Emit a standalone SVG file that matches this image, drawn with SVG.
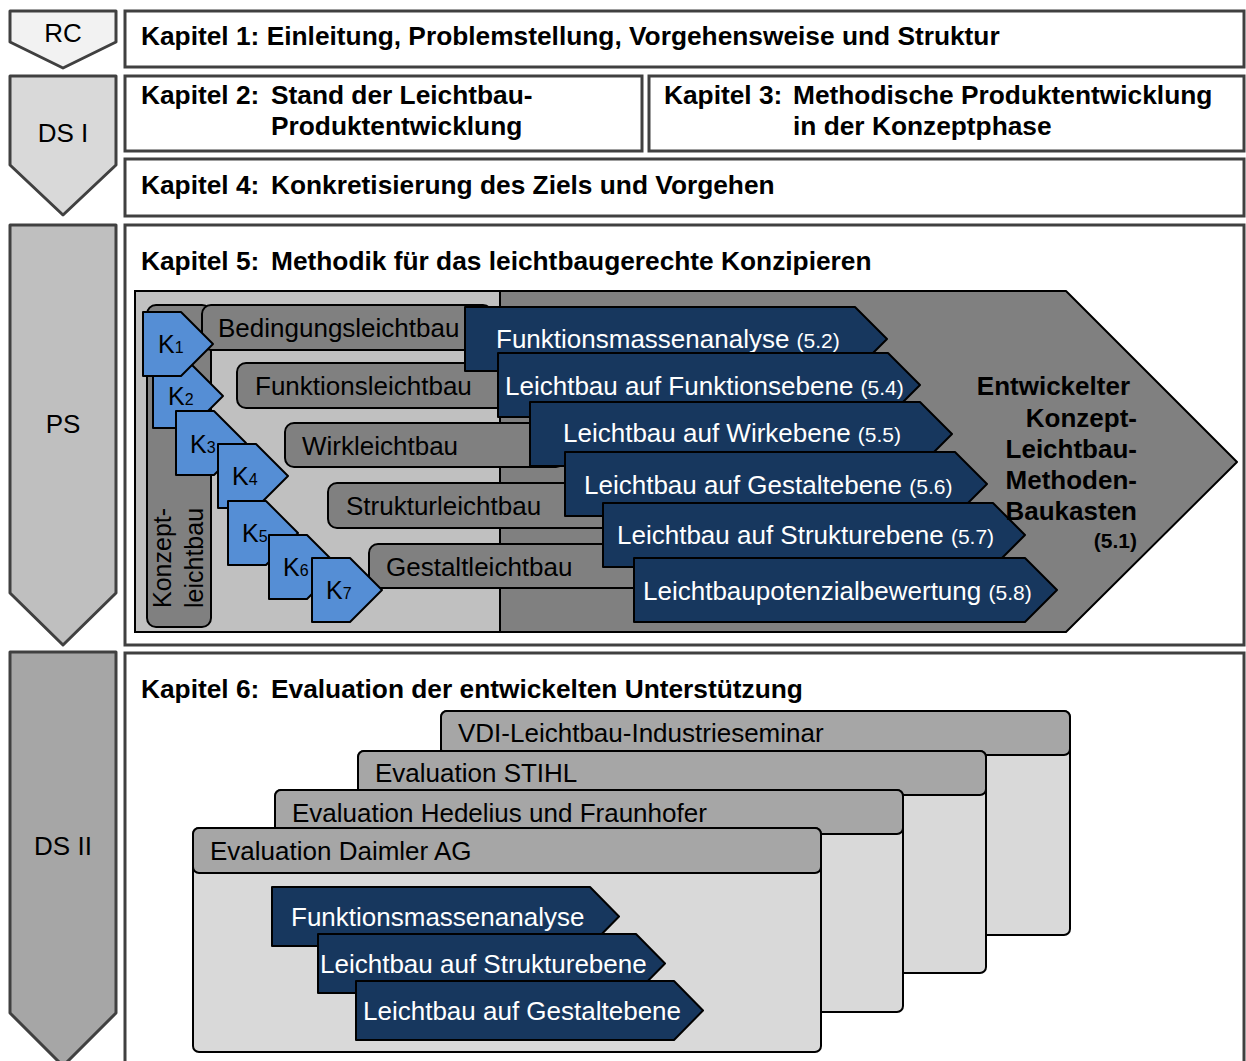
<svg xmlns="http://www.w3.org/2000/svg" width="1246" height="1061" viewBox="0 0 1246 1061">
<style>
text{font-family:"Liberation Sans",Arial,sans-serif;}
.phase{stroke:#404040;stroke-width:3;stroke-linejoin:round;}
.ptxt{font-size:26px;fill:#000;text-anchor:middle;}
.chap{fill:#fff;stroke:#404040;stroke-width:3;}
.ct{font-size:26.3px;font-weight:bold;fill:#000;}
.bar{fill:#808080;stroke:#000;stroke-width:2;}
.bt{font-size:26px;fill:#000;}
.blue{fill:#17375e;stroke:#000;stroke-width:2;stroke-linejoin:round;}
.wt{font-size:26px;fill:#fff;}
.sm{font-size:21px;}
.k{fill:#558ed5;stroke:#000;stroke-width:2;stroke-linejoin:round;}
.kt{font-size:25px;fill:#000;}
.ks{font-size:16px;}
.body{fill:#d9d9d9;stroke:#000;stroke-width:2;}
.head{fill:#a6a6a6;stroke:#000;stroke-width:2;}
.big{font-size:26px;font-weight:bold;fill:#000;text-anchor:end;}
</style>
<g id="phases">
<g id="rc"><polygon class="phase" fill="#f2f2f2" points="10,11 116,11 116,42 63,68 10,42"/><text class="ptxt" x="63" y="42">RC</text></g>
<g id="ds1"><polygon class="phase" fill="#d9d9d9" points="10,76 116,76 116,165 63,215 10,165"/><text class="ptxt" x="63" y="142">DS I</text></g>
<g id="ps"><polygon class="phase" fill="#bfbfbf" points="10,225 116,225 116,593 63,645 10,593"/><text class="ptxt" x="63" y="433">PS</text></g>
<g id="ds2"><polygon class="phase" fill="#a6a6a6" points="10,652 116,652 116,1013 63,1066 10,1013"/><text class="ptxt" x="63" y="855">DS II</text></g>
</g>
<g id="kapitel1"><rect class="chap" x="125" y="11" width="1119" height="56"/><text class="ct" x="141" y="45">Kapitel 1: Einleitung, Problemstellung, Vorgehensweise und Struktur</text></g>
<g id="kapitel2"><rect class="chap" x="125" y="76" width="517" height="75"/><text class="ct" x="141" y="104">Kapitel 2:</text><text class="ct" x="271" y="104">Stand der Leichtbau-</text><text class="ct" x="271" y="135">Produktentwicklung</text></g>
<g id="kapitel3"><rect class="chap" x="649" y="76" width="595" height="75"/><text class="ct" x="664" y="104">Kapitel 3:</text><text class="ct" x="793" y="104">Methodische Produktentwicklung</text><text class="ct" x="793" y="135">in der Konzeptphase</text></g>
<g id="kapitel4"><rect class="chap" x="125" y="159" width="1119" height="57"/><text class="ct" x="141" y="194">Kapitel 4:</text><text class="ct" x="271" y="194">Konkretisierung des Ziels und Vorgehen</text></g>
<g id="kapitel5">
<rect class="chap" x="125" y="225" width="1119" height="420"/>
<text class="ct" x="141" y="270">Kapitel 5:</text><text class="ct" x="271" y="270">Methodik für das leichtbaugerechte Konzipieren</text>
<rect x="135" y="291" width="365" height="341" fill="#c0c0c0" stroke="#000" stroke-width="2"/>
<polygon id="baukasten" points="500,291 1066,291 1237,462 1066,632 500,632" fill="#808080" stroke="#000" stroke-width="2" stroke-linejoin="round"/>
</g>
<g id="konzeptleichtbau"><rect class="bar" x="147" y="305" width="64" height="322" rx="9"/><text class="kt" transform="translate(171,608) rotate(-90)">Konzept-</text><text class="kt" transform="translate(203,608) rotate(-90)">leichtbau</text></g>
<g id="bedingungsleichtbau"><rect class="bar" x="202" y="305" width="290" height="45" rx="9"/><text class="bt" x="218" y="337">Bedingungsleichtbau</text></g>
<g id="funktionsleichtbau"><rect class="bar" x="237" y="363" width="290" height="45" rx="9"/><text class="bt" x="255" y="395">Funktionsleichtbau</text></g>
<g id="wirkleichtbau"><rect class="bar" x="285" y="423" width="280" height="44" rx="9"/><text class="bt" x="302" y="455">Wirkleichtbau</text></g>
<g id="strukturleichtbau"><rect class="bar" x="328" y="483" width="290" height="45" rx="9"/><text class="bt" x="346" y="515">Strukturleichtbau</text></g>
<g id="gestaltleichtbau"><rect class="bar" x="369" y="544" width="280" height="44" rx="9"/><text class="bt" x="386" y="576">Gestaltleichtbau</text></g>
<g id="k2"><path class="k" d="M153,364 H191 L223,396 L191,428 H153 Z"/><text class="kt" x="168" y="405">K<tspan class="ks">2</tspan></text></g>
<g id="k1"><path class="k" d="M143,312 H181 L213,344 L181,376 H143 Z"/><text class="kt" x="158" y="353">K<tspan class="ks">1</tspan></text></g>
<g id="k3"><path class="k" d="M176,411 H214 L246,443 L214,475 H176 Z"/><text class="kt" x="190" y="453">K<tspan class="ks">3</tspan></text></g>
<g id="k4"><path class="k" d="M218,444 H256 L288,476 L256,508 H218 Z"/><text class="kt" x="232" y="485">K<tspan class="ks">4</tspan></text></g>
<g id="k5"><path class="k" d="M228,501 H266 L298,533 L266,565 H228 Z"/><text class="kt" x="242" y="542">K<tspan class="ks">5</tspan></text></g>
<g id="k6"><path class="k" d="M269,535 H307 L339,567 L307,599 H269 Z"/><text class="kt" x="283" y="576">K<tspan class="ks">6</tspan></text></g>
<g id="k7"><path class="k" d="M312,558 H350 L382,590 L350,622 H312 Z"/><text class="kt" x="326" y="599">K<tspan class="ks">7</tspan></text></g>
<g id="m52"><path class="blue" d="M465,307 H855 L887,339 L855,371 H465 Z"/><text class="wt" x="496" y="348">Funktionsmassenanalyse <tspan class="sm">(5.2)</tspan></text></g>
<g id="m54"><path class="blue" d="M498,353 H888 L920,385 L888,417 H498 Z"/><text class="wt" x="505" y="395">Leichtbau auf Funktionsebene <tspan class="sm">(5.4)</tspan></text></g>
<g id="m55"><path class="blue" d="M530,402 H920 L952,434 L920,466 H530 Z"/><text class="wt" x="563" y="442">Leichtbau auf Wirkebene <tspan class="sm">(5.5)</tspan></text></g>
<g id="m56"><path class="blue" d="M565,452 H955 L987,484 L955,516 H565 Z"/><text class="wt" x="584" y="494">Leichtbau auf Gestaltebene <tspan class="sm">(5.6)</tspan></text></g>
<g id="m57"><path class="blue" d="M603,503 H993 L1025,535 L993,567 H603 Z"/><text class="wt" x="617" y="544">Leichtbau auf Strukturebene <tspan class="sm">(5.7)</tspan></text></g>
<g id="m58"><path class="blue" d="M634,558 H1025 L1057,590 L1025,622 H634 Z"/><text class="wt" x="643" y="600">Leichtbaupotenzialbewertung <tspan class="sm">(5.8)</tspan></text></g>
<g id="baukasten-label">
<text class="big" x="1130" y="395">Entwickelter</text>
<text class="big" x="1137" y="427">Konzept-</text>
<text class="big" x="1137" y="458">Leichtbau-</text>
<text class="big" x="1137" y="489">Methoden-</text>
<text class="big" x="1137" y="520">Baukasten</text>
<text class="big" x="1137" y="548" style="font-size:21px">(5.1)</text>
</g>
<g id="kapitel6"><rect class="chap" x="125" y="653" width="1119" height="420"/><text class="ct" x="141" y="698">Kapitel 6:</text><text class="ct" x="271" y="698">Evaluation der entwickelten Unterstützung</text></g>
<g id="vdi"><rect class="body" x="441" y="711" width="629" height="224" rx="6"/><rect class="head" x="441" y="711" width="629" height="44" rx="6"/><text class="bt" x="458" y="742">VDI-Leichtbau-Industrieseminar</text></g>
<g id="stihl"><rect class="body" x="358" y="751" width="628" height="222" rx="6"/><rect class="head" x="358" y="751" width="628" height="44" rx="6"/><text class="bt" x="375" y="782">Evaluation STIHL</text></g>
<g id="hedelius"><rect class="body" x="275" y="790" width="628" height="222" rx="6"/><rect class="head" x="275" y="790" width="628" height="44" rx="6"/><text class="bt" x="292" y="822">Evaluation Hedelius und Fraunhofer</text></g>
<g id="daimler"><rect class="body" x="193" y="828" width="628" height="224" rx="6"/><rect class="head" x="193" y="828" width="628" height="45" rx="6"/><text class="bt" x="210" y="860">Evaluation Daimler AG</text></g>
<g id="e1"><path class="blue" d="M272,887 H590 L619,916.5 L590,946 H272 Z"/><text class="wt" x="291" y="926">Funktionsmassenanalyse</text></g>
<g id="e2"><path class="blue" d="M318,934 H636 L665,963.5 L636,993 H318 Z"/><text class="wt" x="320" y="973">Leichtbau auf Strukturebene</text></g>
<g id="e3"><path class="blue" d="M356,981 H674 L703,1010.5 L674,1040 H356 Z"/><text class="wt" x="363" y="1020">Leichtbau auf Gestaltebene</text></g>
<g id="connectors"></g>
</svg>
